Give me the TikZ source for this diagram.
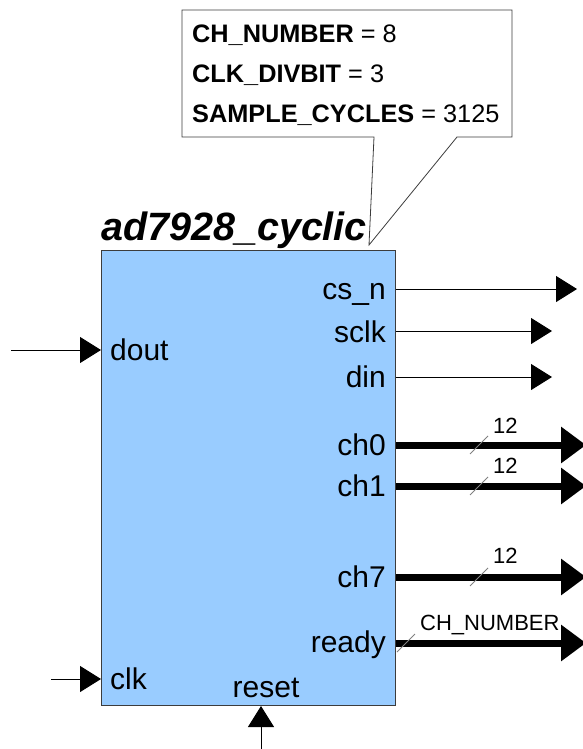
\documentclass[tikz,border=0pt]{standalone}
\usepackage{fontspec}
\setmainfont{Liberation Sans}
\usetikzlibrary{arrows.meta}

\definecolor{blockfill}{RGB}{153,204,255}
\definecolor{blockedge}{RGB}{60,60,60}
\definecolor{slashgray}{RGB}{128,128,128}

\tikzset{
  sigwire/.style={line width=1pt, -{Triangle[length=21pt,width=26pt]}},
  buswire/.style={line width=7pt, -{Triangle[length=25pt,width=35pt]}},
  portlabel/.style={inner sep=0pt, font=\fontsize{30}{33}\selectfont},
  buswidth/.style={inner sep=0pt, font=\fontsize{22}{25}\selectfont},
  buslash/.style={draw=slashgray, line width=0.8pt},
  paramtext/.style={inner sep=0pt, anchor=base west, font=\fontsize{25.3}{28}\selectfont},
}

\begin{document}
\begin{tikzpicture}[x=1pt,y=-1pt]
\useasboundingbox (0,0) rectangle (582,749);

% parameter callout
\draw[blockedge, line width=0.8pt, fill=white]
  (182,10) -- (512,10) -- (512,137) -- (457,137) -- (369,245)
  -- (374,137) -- (182,137) -- cycle;
\node[paramtext] (p1) at (192,43) {\textbf{CH\_NUMBER} = 8};
\node[paramtext] (p2) at (192,83) {\textbf{CLK\_DIVBIT} = 3};
\node[paramtext] (p3) at (192,123) {\textbf{SAMPLE\_CYCLES} = 3125};

% module body and name
\node[draw=blockedge, line width=1pt, fill=blockfill, anchor=north west,
      minimum width=294pt, minimum height=455pt, inner sep=0pt] (blk) at (101,250) {};
\node[inner sep=0pt, anchor=base west, font=\bfseries\itshape\fontsize{39.5}{42}\selectfont]
  (title) at (101,240) {ad7928\_cyclic};

% port names
\node[portlabel, anchor=base east] (lcsn)  at (386,299) {cs\_n};
\node[portlabel, anchor=base east] (lsclk) at (386,342) {sclk};
\node[portlabel, anchor=base east] (ldin)  at (386,387) {din};
\node[portlabel, anchor=base east] (lch0)  at (386,455) {ch0};
\node[portlabel, anchor=base east] (lch1)  at (386,496) {ch1};
\node[portlabel, anchor=base east] (lch7)  at (386,587) {ch7};
\node[portlabel, anchor=base east] (lrdy)  at (386,652) {ready};
\node[portlabel, anchor=base west] (ldout) at (110,360) {dout};
\node[portlabel, anchor=base west] (lclk)  at (110,689) {clk};
\node[portlabel, anchor=base] (lrst) at (266,697) {reset};

% wire end points
\coordinate (csn)  at (577,289);
\coordinate (sclk) at (552,331);
\coordinate (din)  at (552,377);
\coordinate (ch0)  at (586,445);
\coordinate (ch1)  at (586,486);
\coordinate (ch7)  at (586,577);
\coordinate (rdy)  at (586,643);
\coordinate (dout) at (11,350);
\coordinate (clk)  at (51,679);
\coordinate (rst)  at (261,749);

% outputs
\draw[sigwire] (blk.east |- csn)  -- (csn);
\draw[sigwire] (blk.east |- sclk) -- (sclk);
\draw[sigwire] (blk.east |- din)  -- (din);
\draw[buswire] (blk.east |- ch0)  -- (ch0);
\draw[buswire] (blk.east |- ch1)  -- (ch1);
\draw[buswire] (blk.east |- ch7)  -- (ch7);
\draw[buswire] (blk.east |- rdy)  -- (rdy);

% inputs
\draw[sigwire] (dout) -- (blk.west |- dout);
\draw[sigwire] (clk)  -- (blk.west |- clk);
\draw[sigwire] (rst)  -- (blk.south -| rst);

% bus width marks
\draw[buslash] (470,454) -- (488,436);
\draw[buslash] (470,495) -- (488,477);
\draw[buslash] (470,586) -- (488,568);
\draw[buslash] (397,652) -- (415,634);
\node[buswidth, anchor=base west] (w0) at (493,433) {12};
\node[buswidth, anchor=base west] (w1) at (493,473) {12};
\node[buswidth, anchor=base west] (w7) at (493,563) {12};
\node[buswidth, anchor=base west] (wr) at (420,630) {CH\_NUMBER};
\end{tikzpicture}
\end{document}
